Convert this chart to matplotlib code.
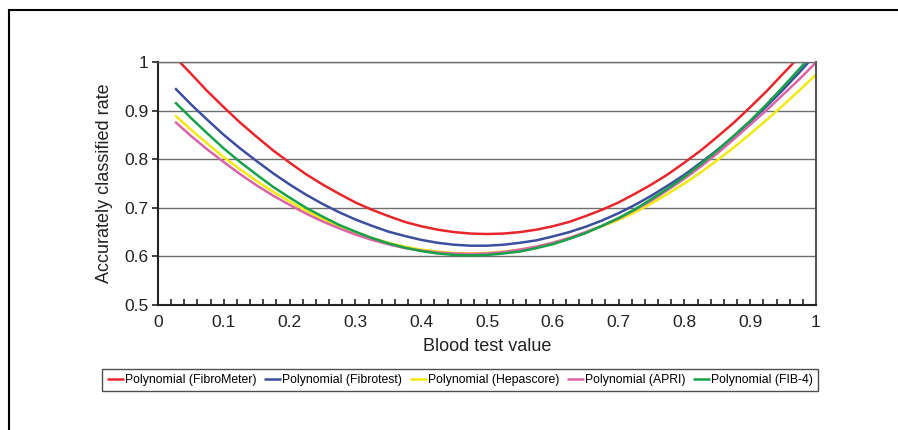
import matplotlib.pyplot as plt
from matplotlib.patches import Rectangle
from matplotlib.ticker import MultipleLocator

plt.rcParams['font.family'] = ['Liberation Sans', 'DejaVu Sans']

# values (blood test value -> accurately classified rate)
x_grid = [0.05, 0.075, 0.10, 0.125, 0.15, 0.175, 0.20, 0.225, 0.25, 0.275, 0.30, 0.325,
          0.35, 0.375, 0.40, 0.425, 0.45, 0.475, 0.50, 0.525, 0.55, 0.575, 0.60, 0.625,
          0.65, 0.675, 0.70, 0.725, 0.75, 0.775, 0.80, 0.825, 0.85, 0.875, 0.90, 0.925, 0.95]

fibrometer_x = [0.033] + x_grid + [0.967]
fibrometer_y = [1.000,
                0.976, 0.940, 0.907, 0.875, 0.846, 0.818, 0.793, 0.769, 0.748, 0.729, 0.711,
                0.696, 0.683, 0.671, 0.662, 0.655, 0.650, 0.647, 0.646, 0.647, 0.650, 0.655,
                0.662, 0.671, 0.683, 0.696, 0.711, 0.729, 0.748, 0.769, 0.793, 0.818, 0.846,
                0.875, 0.907, 0.940, 0.976,
                1.000]

fibrotest_x = [0.026] + x_grid + [0.975, 0.989]
fibrotest_y = [0.946,
               0.913, 0.881, 0.850, 0.822, 0.796, 0.771, 0.748, 0.727, 0.708, 0.691, 0.676,
               0.663, 0.651, 0.642, 0.634, 0.628, 0.624, 0.622, 0.622, 0.624, 0.628, 0.633,
               0.641, 0.650, 0.661, 0.674, 0.689, 0.706, 0.725, 0.746, 0.768, 0.793, 0.819,
               0.847, 0.877, 0.909, 0.943,
               0.979, 1.000]

hepascore_x = [0.026] + x_grid + [0.975, 1.0]
hepascore_y = [0.890,
               0.861, 0.832, 0.804, 0.779, 0.755, 0.733, 0.713, 0.694, 0.677, 0.662, 0.649,
               0.638, 0.628, 0.620, 0.614, 0.610, 0.607, 0.606, 0.607, 0.610, 0.614, 0.620,
               0.628, 0.638, 0.649, 0.662, 0.675, 0.691, 0.709, 0.729, 0.750, 0.773, 0.798,
               0.824, 0.852, 0.881, 0.911,
               0.942, 0.974]

apri_x = [0.026] + x_grid + [0.975, 1.0]
apri_y = [0.877,
          0.848, 0.820, 0.794, 0.769, 0.746, 0.725, 0.706, 0.688, 0.672, 0.658, 0.645,
          0.634, 0.625, 0.617, 0.612, 0.608, 0.606, 0.605, 0.606, 0.609, 0.614, 0.620,
          0.628, 0.638, 0.650, 0.663, 0.678, 0.696, 0.715, 0.737, 0.760, 0.785, 0.812,
          0.841, 0.871, 0.901, 0.933,
          0.965, 0.999]

fib4_x = [0.026] + x_grid + [0.975, 0.984]
fib4_y = [0.917,
          0.885, 0.853, 0.822, 0.794, 0.768, 0.743, 0.721, 0.700, 0.682, 0.665, 0.651,
          0.638, 0.627, 0.618, 0.611, 0.606, 0.603, 0.602, 0.603, 0.606, 0.610, 0.617,
          0.625, 0.636, 0.648, 0.663, 0.679, 0.697, 0.718, 0.740, 0.764, 0.790, 0.818,
          0.848, 0.879, 0.913, 0.949,
          0.986, 1.000]

series = [
    ('Polynomial (FibroMeter)', fibrometer_x, fibrometer_y, '#e8262b'),
    ('Polynomial (Fibrotest)', fibrotest_x, fibrotest_y, '#3b4ea0'),
    ('Polynomial (Hepascore)', hepascore_x, hepascore_y, '#f3e90f'),
    ('Polynomial (APRI)', apri_x, apri_y, '#d964a9'),
    ('Polynomial (FIB-4)', fib4_x, fib4_y, '#17a24a'),
]

fig = plt.figure(figsize=(8.98, 4.30), dpi=100)
ax = fig.add_axes([158 / 898, 125 / 430, 658 / 898, 243 / 430])

for label, xs, ys, color in series:
    ax.plot(xs, ys, color=color, lw=1.8, label=label, solid_capstyle='butt')

ax.set_xlim(0, 1)
ax.set_ylim(0.5, 1)
ax.set_xticks([0, 0.1, 0.2, 0.3, 0.4, 0.5, 0.6, 0.7, 0.8, 0.9, 1])
ax.set_xticklabels(['0', '0.1', '0.2', '0.3', '0.4', '0.5', '0.6', '0.7', '0.8', '0.9', '1'])
ax.set_yticks([0.5, 0.6, 0.7, 0.8, 0.9, 1])
ax.set_yticklabels(['0.5', '0.6', '0.7', '0.8', '0.9', '1'])
ax.xaxis.set_minor_locator(MultipleLocator(0.02))
ax.tick_params(axis='x', which='both', direction='in', length=4, width=1.2,
               labelsize=12.5, pad=7, color='#222222', labelcolor='#222222')
ax.tick_params(axis='y', direction='out', length=4, width=1.2, labelsize=12.5, pad=3,
               color='#222222', labelcolor='#222222')
ax.grid(axis='y', color='#6e6e6e', lw=1.0)
ax.set_axisbelow(True)

for side in ['left', 'bottom']:
    ax.spines[side].set_color('#222222')
    ax.spines[side].set_linewidth(1.5)
ax.spines['right'].set_color('#555555')
ax.spines['right'].set_linewidth(1.5)
ax.spines['top'].set_color('#6e6e6e')
ax.spines['top'].set_linewidth(1.0)

ax.set_xlabel('Blood test value', fontsize=13, labelpad=6, color='#222222')
ax.set_ylabel('Accurately classified rate', fontsize=13, labelpad=8, color='#222222')

leg = fig.legend(loc='center', bbox_to_anchor=(460 / 898, 1 - 380 / 430), ncol=5,
                 fontsize=8.8, frameon=True, fancybox=False, handlelength=1.4,
                 handletextpad=0.1, columnspacing=0.6, borderpad=0.4, borderaxespad=0)
leg.get_frame().set_edgecolor('#222222')
leg.get_frame().set_linewidth(1.0)

# outer border of the figure panel
fig.patches.append(Rectangle((9 / 898, -0.5), 2.0, 0.5 + 1 - 10 / 430,
                             transform=fig.transFigure, fill=False,
                             edgecolor='black', lw=1.5))

fig.savefig('out.png', dpi=100)
